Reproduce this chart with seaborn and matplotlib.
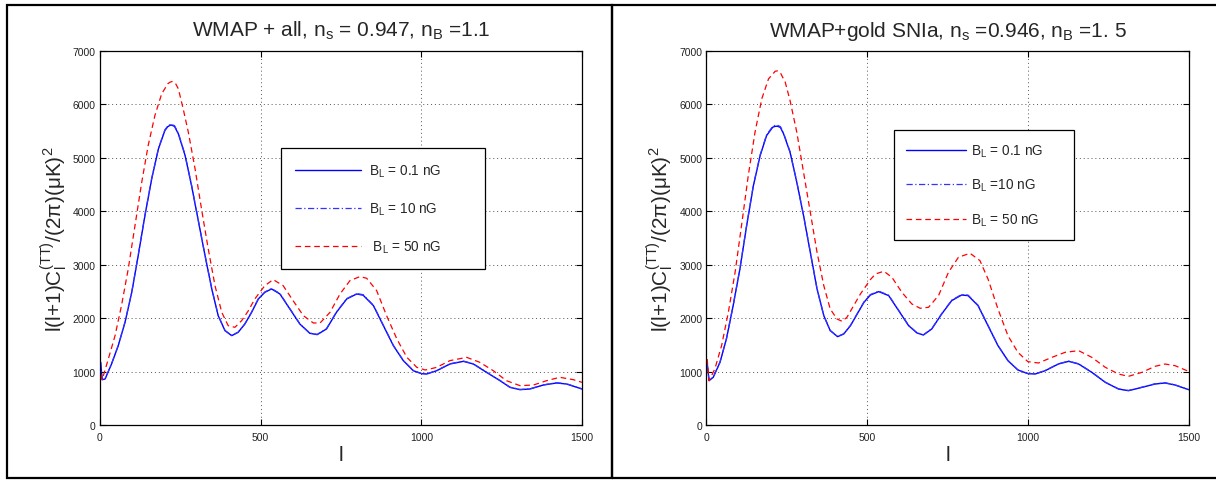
import numpy as np
import pandas as pd
import matplotlib
matplotlib.use("Agg")
import matplotlib.pyplot as plt
from matplotlib.patches import Rectangle
import seaborn as sns

# multipole values (left panel, WMAP + all)
l_left_low = [2, 7, 16, 36, 57, 78, 99, 119, 140, 161, 182, 202, 211, 221, 232, 244, 265, 285, 306,
              327, 348, 368, 389, 410, 430, 451, 472, 493, 513, 534, 560, 591, 622, 653, 676, 705,
              736, 768, 799, 819, 851, 882, 913, 944, 975, 1001, 1017, 1048, 1089, 1131, 1162,
              1203, 1245, 1276, 1307, 1338, 1380, 1421, 1452, 1500]
cl_left_low = [1173, 849, 861, 1142, 1486, 1923, 2484, 3171, 3920, 4607, 5169, 5512, 5585, 5618,
               5590, 5449, 5044, 4482, 3826, 3171, 2547, 2047, 1767, 1673, 1735, 1891, 2110, 2360,
               2484, 2547, 2453, 2172, 1891, 1717, 1692, 1798, 2110, 2360, 2453, 2430, 2235, 1860,
               1486, 1205, 1017, 960, 955, 1017, 1142, 1192, 1142, 986, 830, 705, 662, 674, 749,
               787, 768, 674]
cl_left_mid = [1180, 852, 864, 1145, 1490, 1928, 2490, 3178, 3928, 4616, 5180, 5525, 5598, 5632,
               5603, 5462, 5055, 4490, 3832, 3176, 2551, 2050, 1770, 1676, 1738, 1895, 2114, 2365,
               2490, 2555, 2460, 2178, 1895, 1721, 1696, 1803, 2116, 2366, 2460, 2440, 2241, 1865,
               1490, 1208, 1020, 963, 958, 1020, 1146, 1197, 1146, 989, 833, 708, 665, 677, 752,
               791, 772, 677]

l_left_high = [2, 7, 26, 47, 67, 88, 109, 130, 150, 171, 192, 211, 218, 225, 235, 244, 259, 275,
               296, 316, 337, 358, 379, 399, 420, 441, 462, 482, 513, 539, 570, 601, 633, 664, 685,
               716, 747, 778, 809, 830, 861, 892, 924, 955, 986, 1012, 1027, 1048, 1089, 1141,
               1182, 1224, 1265, 1307, 1349, 1390, 1431, 1473, 1500]
cl_left_high = [950, 850, 1236, 1673, 2235, 2921, 3733, 4544, 5231, 5793, 6199, 6386, 6418, 6430,
                6395, 6292, 5918, 5481, 4794, 4045, 3296, 2609, 2110, 1860, 1829, 1954, 2141, 2360,
                2609, 2722, 2609, 2328, 2047, 1910, 1910, 2110, 2453, 2703, 2778, 2747, 2516, 2047,
                1610, 1267, 1080, 1030, 1049, 1080, 1205, 1267, 1174, 1017, 830, 737, 749, 830,
                893, 849, 799]

# right panel, WMAP + gold SNIa
l_right_low = [2, 8, 21, 42, 62, 83, 104, 125, 146, 167, 187, 206, 213, 221, 230, 240, 260, 281,
               302, 323, 344, 365, 385, 408, 427, 448, 469, 490, 510, 536, 567, 598, 629, 655, 675,
               701, 732, 763, 794, 814, 845, 876, 907, 938, 969, 1000, 1023, 1054, 1095, 1127,
               1158, 1199, 1241, 1282, 1313, 1355, 1396, 1427, 1458, 1500]
cl_right_low = [1161, 830, 893, 1174, 1610, 2235, 2921, 3733, 4482, 5044, 5418, 5574, 5590, 5593,
                5570, 5449, 5106, 4544, 3920, 3233, 2547, 2047, 1767, 1654, 1704, 1860, 2079, 2297,
                2434, 2497, 2422, 2141, 1860, 1723, 1685, 1798, 2079, 2328, 2434, 2422, 2235, 1860,
                1486, 1205, 1030, 962, 955, 1017, 1142, 1192, 1142, 986, 799, 674, 643, 705, 768,
                787, 749, 662]
cl_right_mid = [1168, 834, 897, 1178, 1615, 2241, 2928, 3742, 4492, 5056, 5432, 5590, 5606, 5610,
                5586, 5462, 5117, 4552, 3926, 3238, 2551, 2050, 1770, 1657, 1708, 1865, 2084, 2303,
                2442, 2506, 2430, 2147, 1865, 1727, 1689, 1803, 2085, 2336, 2444, 2432, 2242, 1865,
                1490, 1208, 1033, 965, 958, 1020, 1146, 1197, 1146, 989, 802, 677, 646, 708, 772,
                791, 752, 665]

l_right_high = [2, 8, 26, 47, 68, 89, 109, 130, 151, 172, 193, 214, 221, 229, 245, 260, 281, 302,
                323, 344, 365, 385, 406, 422, 437, 458, 479, 510, 526, 552, 577, 608, 639, 665, 691,
                722, 753, 784, 820, 851, 876, 907, 938, 969, 1000, 1033, 1075, 1116, 1158, 1199,
                1241, 1282, 1313, 1355, 1396, 1427, 1458, 1500]
cl_right_high = [1236, 830, 1049, 1486, 2110, 2859, 3733, 4669, 5481, 6105, 6479, 6623, 6628, 6604,
                 6417, 6074, 5481, 4732, 3983, 3233, 2609, 2172, 1985, 1941, 2016, 2235, 2453, 2722,
                 2828, 2878, 2765, 2484, 2266, 2185, 2204, 2422, 2859, 3140, 3215, 3077, 2734, 2172,
                 1673, 1361, 1186, 1161, 1267, 1361, 1392, 1267, 1080, 955, 911, 986, 1099, 1142,
                 1111, 1005]

titles = [r"WMAP + all, n$_s$ = 0.947, n$_B$ =1.1",
          r"WMAP+gold SNIa, n$_s$ =0.946, n$_B$ =1. 5"]
labels_left = [r"B$_L$ = 0.1 nG", r"B$_L$ = 10 nG", r" B$_L$ = 50 nG"]
labels_right = [r"B$_L$ = 0.1 nG", r"B$_L$ =10 nG", r"B$_L$ = 50 nG"]

sns.set_theme(style="white", rc={
    "axes.edgecolor": "black",
    "axes.linewidth": 0.9,
    "xtick.direction": "in",
    "ytick.direction": "in",
    "xtick.top": True,
    "ytick.right": True,
    "xtick.bottom": True,
    "ytick.left": True,
})
plt.rcParams["font.family"] = ["Liberation Sans", "DejaVu Sans"]
plt.rcParams["mathtext.fontset"] = "custom"
plt.rcParams["mathtext.rm"] = "Liberation Sans"
plt.rcParams["mathtext.it"] = "Liberation Sans"
plt.rcParams["mathtext.default"] = "regular"

fig = plt.figure(figsize=(12.16, 4.81), dpi=100)

# panel frames (right one runs off the image edge like the reference)
fig.patches.append(Rectangle((0.006, 0.004), 0.497, 0.984, transform=fig.transFigure,
                             fill=False, edgecolor="black", linewidth=1.6))
fig.patches.append(Rectangle((0.503, 0.004), 0.52, 0.984, transform=fig.transFigure,
                             fill=False, edgecolor="black", linewidth=1.6))

ax1 = fig.add_axes([0.0822, 0.1143, 0.3964, 0.7775])
ax2 = fig.add_axes([0.581, 0.1143, 0.3964, 0.7775])

# legend placement: x0, top, width, handlelength, handletextpad, labelspacing, borderpad
panels = [
    (ax1, l_left_low, cl_left_low, cl_left_mid, l_left_high, cl_left_high, labels_left,
     (0.3755, 0.7406, 0.423, 4.8, 0.6, 1.6, 1.05)),
    (ax2, l_right_low, cl_right_low, cl_right_mid, l_right_high, cl_right_high, labels_right,
     (0.3886, 0.7888, 0.373, 4.4, 0.4, 1.35, 0.9)),
]

for i, (ax, l_low, c_low, c_mid, l_high, c_high, labs, leg) in enumerate(panels):
    df_low = pd.DataFrame({"l": l_low, "cl": c_low})
    df_mid = pd.DataFrame({"l": l_low, "cl": c_mid})
    df_high = pd.DataFrame({"l": l_high, "cl": c_high})

    sns.lineplot(data=df_low, x="l", y="cl", ax=ax, color="#0000ff", linewidth=1.0,
                 sort=False, estimator=None, label=labs[0])
    sns.lineplot(data=df_mid, x="l", y="cl", ax=ax, color="#3333ff", linewidth=0.9,
                 linestyle=(0, (5, 2, 1, 2)), sort=False, estimator=None, label=labs[1])
    sns.lineplot(data=df_high, x="l", y="cl", ax=ax, color="#ff0000", linewidth=0.9,
                 linestyle=(0, (4.5, 3)), sort=False, estimator=None, label=labs[2])

    ax.set_xlim(0, 1500)
    ax.set_ylim(0, 7000)
    ax.set_xticks([0, 500, 1000, 1500])
    ax.set_yticks(np.arange(0, 7001, 1000))
    ax.tick_params(axis="both", labelsize=7.5, length=4, width=0.8, color="black",
                   labelcolor="#222222")
    ax.tick_params(axis="x", pad=5)
    ax.tick_params(axis="y", pad=3)
    ax.grid(True, linestyle=(0, (1, 3)), color="#555555", linewidth=0.7)

    ax.set_title(titles[i], fontsize=15, pad=11)
    ax.set_xlabel("l", fontsize=15, labelpad=2)
    ax.set_ylabel(r"l(l+1)C$_l^{(TT)}$/(2$\pi$)($\mu$K)$^2$", fontsize=15, labelpad=2)

    x0, y1, w, hl, htp, ls, bp = leg
    lg = ax.legend(loc="upper left", bbox_to_anchor=(x0, y1 - 0.3, w, 0.3), mode="expand",
                   borderaxespad=0, fontsize=9.8, frameon=True, fancybox=False,
                   edgecolor="black", framealpha=1, handlelength=hl, handletextpad=htp,
                   labelspacing=ls, borderpad=bp)
    lg.get_frame().set_linewidth(0.9)

fig.savefig("out.png", dpi=100)
